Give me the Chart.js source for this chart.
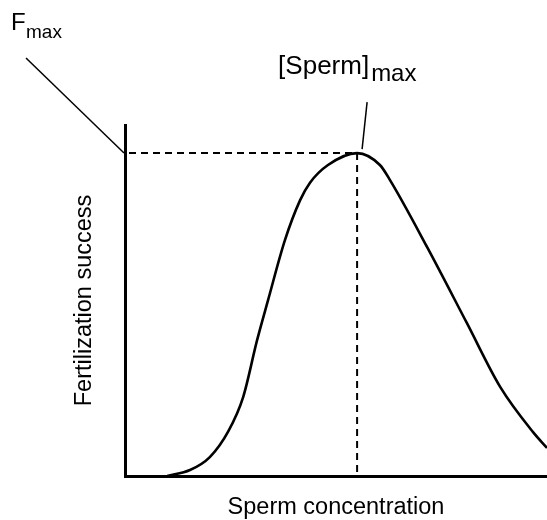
<!DOCTYPE html>
<html>
<head>
<meta charset="utf-8">
<script src="https://cdn.jsdelivr.net/npm/chart.js@4.4.1/dist/chart.umd.min.js"></script>
<style>
  html, body { margin: 0; padding: 0; background: #fff; }
  #wrap { width: 547px; height: 520px; }
</style>
</head>
<body>
<div id="wrap"><canvas id="chart"></canvas></div>
<script>
// concentration (0-100 along the x axis) vs fertilization success (0-100 up the y axis)
const concentration = [10, 15.4, 20.1, 24.5, 28.0, 31.3, 33.9, 37.9, 41.5, 43.8, 48.1, 55,
  60.4, 62.8, 71.6, 81, 88.9, 96.7, 100];
const success = [0, 1.7, 5.4, 12.8, 22.5, 38.7, 50.1, 67.2, 78.6, 83.5, 88.6, 92,
  88.6, 84.3, 65.2, 43.6, 25.4, 12.5, 8.0];

// the peak of the curve
const spermMax = 55;
const fMax = 92;

const FONT = "'Liberation Sans', Arial, Helvetica, sans-serif";

const curve = concentration.map((x, i) => ({ x: x, y: success[i] }));

// leader lines + labels for F_max and [Sperm]_max
const labelsPlugin = {
  id: "labels",
  afterDatasetsDraw(chart) {
    const ctx = chart.ctx;
    const xs = chart.scales.x;
    const ys = chart.scales.y;
    const px = xs.getPixelForValue(spermMax);
    const py = ys.getPixelForValue(fMax);
    const axisX = xs.getPixelForValue(0);

    ctx.save();
    ctx.strokeStyle = "#000";
    ctx.lineWidth = 1.5;

    // F_max leader
    ctx.beginPath();
    ctx.moveTo(26, 58);
    ctx.lineTo(axisX - 1, py);
    ctx.stroke();

    // [Sperm]_max leader
    ctx.beginPath();
    ctx.moveTo(px + 10, py - 51);
    ctx.lineTo(px + 5, py - 4);
    ctx.stroke();

    ctx.fillStyle = "#000";
    ctx.textBaseline = "alphabetic";
    ctx.textAlign = "left";

    ctx.font = "24px " + FONT;
    ctx.fillText("F", 11, 30);
    ctx.font = "19px " + FONT;
    ctx.fillText("max", 26, 38);

    ctx.font = "26px " + FONT;
    const sx = px - 79;
    ctx.fillText("[Sperm]", sx, 74);
    const w = ctx.measureText("[Sperm]").width;
    ctx.font = "24px " + FONT;
    ctx.fillText("max", sx + w + 2, 81);
    ctx.restore();
  }
};

new Chart(document.getElementById("chart"), {
  type: "scatter",
  data: {
    datasets: [
      {
        data: curve,
        showLine: true,
        borderColor: "#000",
        borderWidth: 2.6,
        pointRadius: 0,
        cubicInterpolationMode: "monotone",
        fill: false,
      },
      {
        data: [{ x: 0, y: fMax }, { x: spermMax, y: fMax }],
        showLine: true,
        borderColor: "#000",
        borderWidth: 2,
        borderDash: [7, 5],
        borderDashOffset: -4,
        pointRadius: 0,
      },
      {
        data: [{ x: spermMax, y: fMax }, { x: spermMax, y: 0 }],
        showLine: true,
        borderColor: "#000",
        borderWidth: 2,
        borderDash: [7, 5],
        pointRadius: 0,
      },
    ],
  },
  options: {
    responsive: true,
    maintainAspectRatio: false,
    animation: false,
    layout: { padding: { top: 125, left: 0, right: 0, bottom: 0 } },
    plugins: {
      legend: { display: false },
      tooltip: { enabled: false },
    },
    scales: {
      x: {
        type: "linear",
        min: 0,
        max: 100,
        grid: { display: false, drawTicks: false },
        ticks: { display: false },
        border: { display: true, color: "#000", width: 3 },
        title: {
          display: true,
          text: "Sperm concentration",
          color: "#000",
          font: { family: FONT, size: 23.5, lineHeight: 1 },
          padding: { top: 20.25, bottom: 0.25 },
        },
      },
      y: {
        type: "linear",
        min: 0,
        max: 100,
        grid: { display: false, drawTicks: false },
        ticks: { display: false },
        border: { display: true, color: "#000", width: 3 },
        title: {
          display: true,
          text: "Fertilization success",
          color: "#000",
          font: { family: FONT, size: 23.5, lineHeight: 1 },
          padding: { top: 73.25, bottom: 28.25 },
        },
      },
    },
  },
  plugins: [labelsPlugin],
});
</script>
</body>
</html>
